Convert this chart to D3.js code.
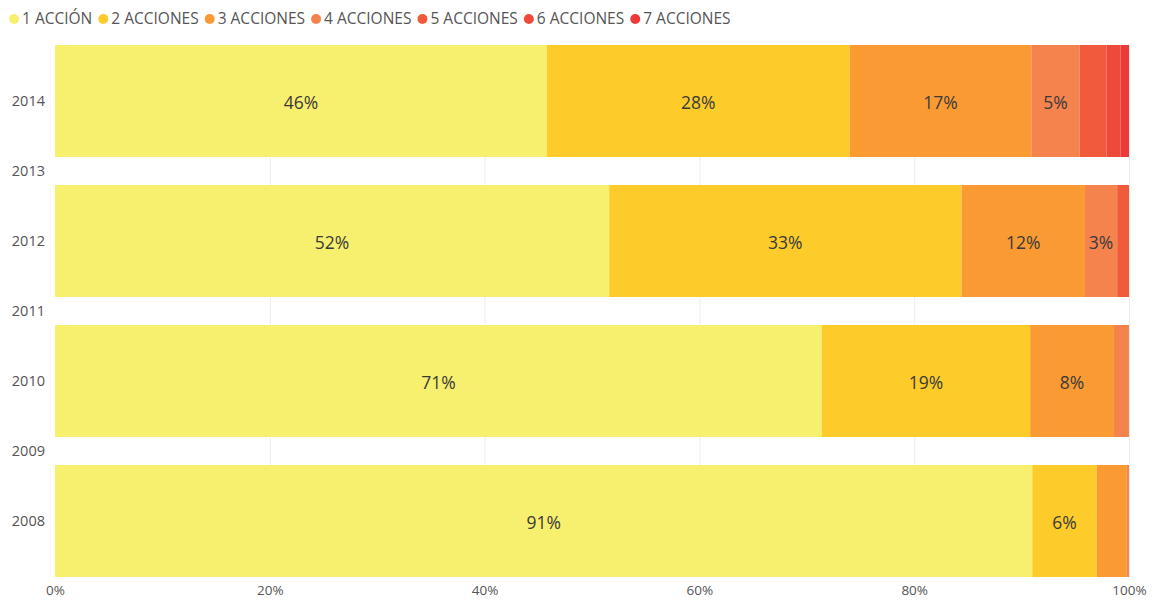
<!DOCTYPE html>
<html><head><meta charset="utf-8">
<script src="https://cdn.jsdelivr.net/npm/d3@7"></script>
<style>
body{margin:0;background:#fff;}
svg{display:block;font-family:"Open Sans","Noto Sans",sans-serif;}
</style></head>
<body><svg id="c" width="1155" height="601"></svg>
<script>
const years = [2014, 2013, 2012, 2011, 2010, 2009, 2008];
const seriesNames = ["1 ACCIÓN","2 ACCIONES","3 ACCIONES","4 ACCIONES","5 ACCIONES","6 ACCIONES","7 ACCIONES"];
const colors = ["#F7EF6E","#FDCC2A","#F99A33","#F5834E","#F15A3A","#EE4A3C","#EC3A3B"];
const dataYears = [2014, 2012, 2010, 2008];
const s1 = [45.8, 51.6, 71.4, 91.0];
const s2 = [28.2, 32.8, 19.4, 6.0];
const s3 = [16.9, 11.5, 7.8, 2.8];
const s4 = [4.5, 3.0, 1.4, 0.2];
const s5 = [2.5, 1.1, 0, 0];
const s6 = [1.3, 0, 0, 0];
const s7 = [0.8, 0, 0, 0];
const xTicks = [0, 20, 40, 60, 80, 100];

const series = [s1,s2,s3,s4,s5,s6,s7];
const svg = d3.select("#c");
const x = d3.scaleLinear().domain([0,100]).range([55,1129]);
const y = d3.scaleLinear().domain([2014,2008]).range([101,521]);
const barH = (y(2008)-y(2010))*0.8;

// gridlines
svg.append("g").selectAll("line").data(xTicks.slice(1)).join("line")
  .attr("x1",d=>x(d)+0.5).attr("x2",d=>x(d)+0.5)
  .attr("y1",y(2014)-barH/2).attr("y2",y(2008)+barH/2)
  .attr("stroke","#ebebeb").attr("stroke-width",1);

// stacked data
const rows = dataYears.map((yr,i)=>{
  const o={year:yr}; seriesNames.forEach((n,k)=>o[n]=series[k][i]); return o;});
const stack = d3.stack().keys(seriesNames)(rows);

const g = svg.append("g");
stack.forEach((layer,k)=>{
  g.append("g").attr("fill",colors[k]).selectAll("rect").data(layer).join("rect")
   .attr("x",d=>x(d[0])).attr("width",d=>Math.max(0,x(d[1])-x(d[0])))
   .attr("y",d=>y(d.data.year)-barH/2).attr("height",barH);
});
// labels
stack.forEach((layer,k)=>{
  g.append("g").selectAll("text").data(layer.filter(d=>d[1]-d[0]>=3)).join("text")
   .attr("x",d=>(x(d[0])+x(d[1]))/2).attr("y",d=>y(d.data.year)+2)
   .attr("dy","0.36em").attr("text-anchor","middle")
   .attr("font-size",17.5).attr("fill","#3a3a3a")
   .text(d=>Math.round(d[1]-d[0])+"%");
});

// y axis
const yAxis = svg.append("g").attr("transform","translate(45,0)")
  .call(d3.axisLeft(y).tickValues(years).tickFormat(d3.format("d")).tickSize(0).tickPadding(0));
yAxis.select(".domain").remove();
yAxis.selectAll("text").attr("font-size",14.5).attr("fill","#555").attr("font-family","'Open Sans',sans-serif");

// x axis
const xAxis = svg.append("g").attr("transform","translate(0,582)")
  .call(d3.axisBottom(x).tickValues(xTicks).tickFormat(d=>d+"%").tickSize(0).tickPadding(3));
xAxis.select(".domain").remove();
xAxis.selectAll("text").attr("font-size",13.5).attr("fill","#555").attr("font-family","'Open Sans',sans-serif");

// legend
const leg = svg.append("g");
let lx = 14;
seriesNames.forEach((n,k)=>{
  leg.append("circle").attr("cx",lx).attr("cy",19).attr("r",5).attr("fill",colors[k]);
  const t = leg.append("text").attr("x",lx+8).attr("y",19).attr("dy","0.35em")
    .attr("font-size",15.5).attr("fill","#555").text(n);
  lx += 8 + t.node().getComputedTextLength() + 11;
});
</script></body></html>
